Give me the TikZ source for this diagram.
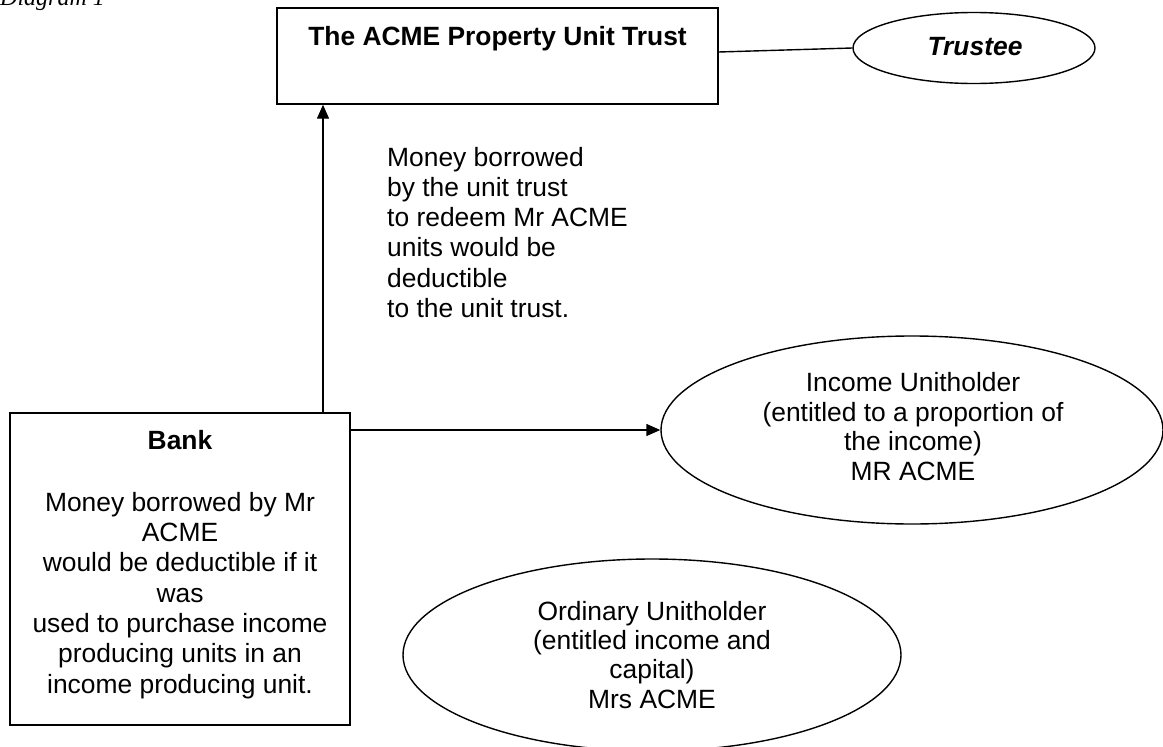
\documentclass[tikz,border=0pt]{standalone}
\usepackage{fontspec}
\setmainfont{Liberation Sans}
\newfontfamily\captfont{Liberation Serif}
\usetikzlibrary{shapes.geometric,arrows.meta}
\begin{document}
\begin{tikzpicture}[x=1pt,y=-1pt,
  frame/.style={draw=black, line width=1.4pt, rectangle, inner sep=0pt},
  oval/.style={draw=black, line width=1.4pt, ellipse, inner sep=0pt},
  txt/.style={font=\fontsize{26.4}{30.3}\selectfont, inner sep=0pt, align=center},
  arr/.style={line width=1.4pt, -{Triangle[length=14pt,width=12pt]}},
  link/.style={line width=1.4pt}]
\useasboundingbox (0,0) rectangle (1163,747);

\node[font=\captfont\itshape\fontsize{24}{28}\selectfont, anchor=base west, inner sep=0pt] (cap) at (0,5) {Diagram 1};

\node[frame, minimum width=441pt, minimum height=96pt] (trust) at (497.5,56) {};
\node[txt, anchor=base] (trusttitle) at (497.5,45.5) {\bfseries The ACME Property Unit Trust};

\node[oval, minimum width=242pt, minimum height=71pt] (trustee) at (974,48) {};
\node[txt, anchor=base] (trusteetext) at (975,55) {\bfseries\itshape Trustee};

\node[frame, minimum width=340pt, minimum height=312pt] (bank) at (180,569) {};
\node[txt, anchor=base] (banktitle) at (180,449) {\bfseries Bank};
\node[txt, anchor=base] (banktext) at (180,693) {Money borrowed by Mr\\ACME\\would be deductible if it\\was\\used to purchase income\\producing units in an\\income producing unit.};

\node[txt, align=left, anchor=base west] (note) at (387,317.5) {Money borrowed\\by the unit trust\\to redeem Mr ACME\\units would be\\deductible\\to the unit trust.};

\node[oval, minimum width=502pt, minimum height=188pt] (inc) at (912,430) {};
\node[txt, font=\fontsize{26.4}{29.5}\selectfont, anchor=base] (inctext) at (913,480.2) {Income Unitholder\\(entitled to a proportion of\\the income)\\MR ACME};

\node[oval, minimum width=498pt, minimum height=192pt] (ord) at (652,655) {};
\node[txt, font=\fontsize{26.4}{29.3}\selectfont, anchor=base] (ordtext) at (652,708) {Ordinary Unitholder\\(entitled income and\\capital)\\Mrs ACME};

\coordinate (vx) at (323,0);
\draw[arr] (bank.north -| vx) -- (trust.south -| vx);
\draw[arr] (inc.west -| bank.east) -- (inc.west);
\draw[link] ([yshift=4pt]trust.east) -- (trustee.west);
\end{tikzpicture}
\end{document}
